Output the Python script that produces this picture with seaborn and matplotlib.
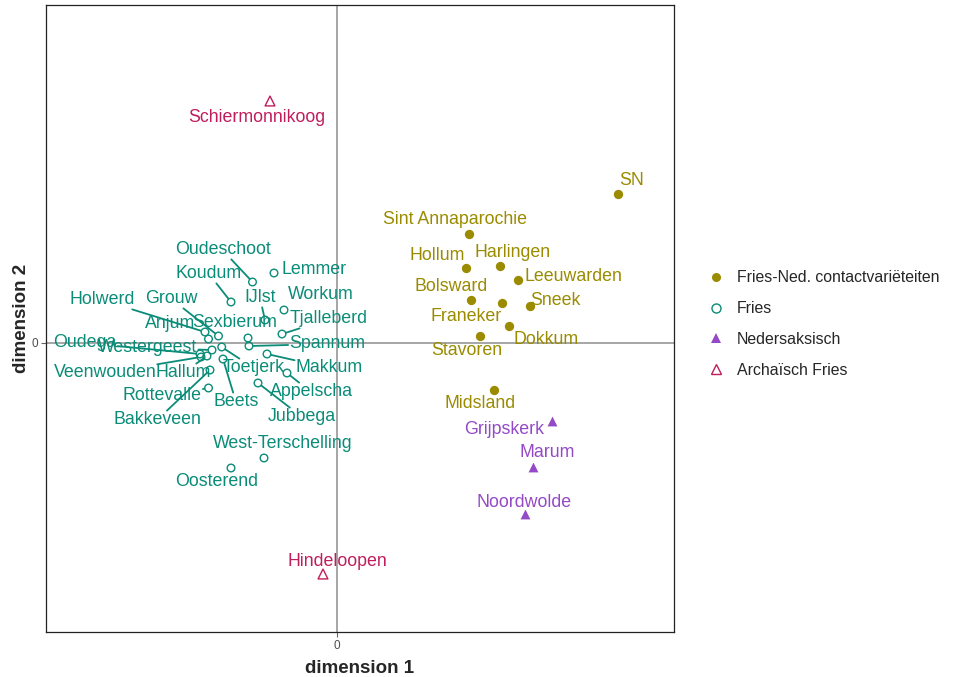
import numpy as np
import pandas as pd
import matplotlib
matplotlib.use('Agg')
import matplotlib.pyplot as plt
from matplotlib.lines import Line2D
import seaborn as sns

# plaatsen, MDS-coordinaten en groep
places = ['SN', 'Sint Annaparochie', 'Hollum', 'Harlingen', 'Leeuwarden', 'Bolsward',
          'Franeker', 'Sneek', 'Dokkum', 'Stavoren', 'Midsland',
          'Grijpskerk', 'Marum', 'Noordwolde',
          'Schiermonnikoog', 'Hindeloopen',
          'Oudeschoot', 'Koudum', 'Lemmer', 'Holwerd', 'Grouw', 'IJlst', 'Workum',
          'Anjum', 'Sexbierum', 'Tjalleberd', 'Oudega', 'Westergeest', 'Spannum',
          'Veenwouden', 'Hallum', 'Toetjerk', 'Makkum', 'Appelscha', 'Rottevalle',
          'Beets', 'Jubbega', 'Bakkeveen', 'West-Terschelling', 'Oosterend']
dim1 = [2.81, 1.32, 1.29, 1.63, 1.81, 1.34, 1.65, 1.93, 1.72, 1.43, 1.57,
        2.15, 1.96, 1.88,
        -0.67, -0.14,
        -0.845, -1.06, -0.63, -1.32, -1.185, -0.72, -0.53,
        -1.285, -0.89, -0.55, -1.37, -1.25, -0.88,
        -1.36, -1.30, -1.153, -0.70, -0.50, -1.285,
        -1.14, -0.79, -1.27, -0.73, -1.06]
dim2 = [1.49, 1.09, 0.75, 0.77, 0.63, 0.43, 0.40, 0.37, 0.17, 0.07, -0.47,
        -0.78, -1.24, -1.71,
        2.42, -2.31,
        0.61, 0.41, 0.70, 0.11, 0.07, 0.23, 0.33,
        0.04, 0.05, 0.09, -0.11, -0.07, -0.03,
        -0.14, -0.13, -0.04, -0.11, -0.30, -0.45,
        -0.16, -0.40, -0.27, -1.15, -1.25]
groups = (['Fries-Ned. contactvariëteiten'] * 11 + ['Nedersaksisch'] * 3 +
          ['Archaïsch Fries'] * 2 + ['Fries'] * 24)

group_order = ['Fries-Ned. contactvariëteiten', 'Fries', 'Nedersaksisch', 'Archaïsch Fries']
colors = {'Fries-Ned. contactvariëteiten': '#9A8B00', 'Fries': '#0A8C78',
          'Nedersaksisch': '#9449C6', 'Archaïsch Fries': '#BF1D5C'}

# label plaatsing (pixels t.o.v. punt, naar rechts / naar beneden)
label_offset = {
    'SN': (14, -13), 'Sint Annaparochie': (-14, -14), 'Hollum': (-29, -12),
    'Harlingen': (13, -13), 'Leeuwarden': (55, -3), 'Bolsward': (-20, -13),
    'Franeker': (-36, 14), 'Sneek': (25, -5), 'Dokkum': (37, 14), 'Stavoren': (-13, 15),
    'Midsland': (-14, 14), 'Grijpskerk': (-48, 9), 'Marum': (14, -14),
    'Noordwolde': (-1, -11), 'Schiermonnikoog': (-13, 16), 'Hindeloopen': (14, -12),
    'Oudeschoot': (-30, -32), 'Koudum': (-22, -28), 'Lemmer': (40, -3),
    'Holwerd': (-103, -32), 'Grouw': (-47, -37), 'IJlst': (-5, -22), 'Workum': (37, -15),
    'Anjum': (-38, -15), 'Sexbierum': (-13, -15), 'Tjalleberd': (47, -15),
    'Oudega': (-115, -11), 'Westergeest': (-64, -2), 'Spannum': (78, -2),
    'Veenwouden': (-96, 16), 'Hallum': (-24, 17), 'Toetjerk': (32, 21),
    'Makkum': (62, 14), 'Appelscha': (24, 19), 'Rottevalle': (-46, 8),
    'Beets': (13, 43), 'Jubbega': (44, 34), 'Bakkeveen': (-53, 50),
    'West-Terschelling': (19, -14), 'Oosterend': (-14, 14)}
with_segment = {'Oudeschoot', 'Koudum', 'Holwerd', 'Grouw', 'IJlst', 'Tjalleberd',
                'Oudega', 'Westergeest', 'Spannum', 'Veenwouden', 'Hallum', 'Toetjerk',
                'Makkum', 'Appelscha', 'Rottevalle', 'Beets', 'Jubbega', 'Bakkeveen'}

df = pd.DataFrame({'place': places, 'dim1': dim1, 'dim2': dim2, 'group': groups})

sns.set_theme(style='white')
plt.rcParams['font.family'] = ['Liberation Sans', 'DejaVu Sans']

fig = plt.figure(figsize=(9.69, 6.77), dpi=100)
W, H = 969, 677
ax = fig.add_axes([46 / W, 1 - 632 / H, (674 - 46) / W, (632 - 5) / H])

ax.axhline(0, color='#a6a6a6', lw=1.4, zorder=0)
ax.axvline(0, color='#a6a6a6', lw=1.4, zorder=0)

styles = {'Fries-Ned. contactvariëteiten': dict(marker='o', s=45, fill=True),
          'Fries': dict(marker='o', s=30, fill=False),
          'Nedersaksisch': dict(marker='^', s=50, fill=True),
          'Archaïsch Fries': dict(marker='^', s=50, fill=False)}
for g in group_order:
    sub = df[df['group'] == g]
    st = styles[g]
    c = colors[g]
    sns.scatterplot(data=sub, x='dim1', y='dim2', ax=ax, marker=st['marker'], s=st['s'],
                    facecolor=c if st['fill'] else 'none', edgecolor=c,
                    linewidth=0 if st['fill'] else 1.0, legend=False, zorder=3)

for _, row in df.iterrows():
    c = colors[row['group']]
    dx, dy = label_offset[row['place']]
    arrow = None
    if row['place'] in with_segment:
        arrow = dict(arrowstyle='-', color=c, lw=1.3, shrinkA=0, shrinkB=3)
    ax.annotate(row['place'], xy=(row['dim1'], row['dim2']), xytext=(dx, -dy),
                textcoords='offset pixels', ha='center', va='center',
                fontsize=12.8, color=c, arrowprops=arrow, zorder=4,
                bbox=dict(boxstyle='square,pad=0.05', fc='none', ec='none'))

ax.set_xlim(-2.91, 3.37)
ax.set_ylim(-2.89, 3.38)
ax.set_xticks([0])
ax.set_yticks([0])
ax.tick_params(axis='both', length=3.5, width=0.8, color='#666666', labelcolor='#4d4d4d',
               labelsize=8.5, left=True, bottom=True, pad=2)
for sp in ax.spines.values():
    sp.set_color('#222222')
    sp.set_linewidth(0.9)
ax.set_xlabel('dimension 1', fontsize=13.5, fontweight='bold', labelpad=6)
ax.set_ylabel('dimension 2', fontsize=13.5, fontweight='bold', labelpad=1)

handles = []
for g in group_order:
    st = styles[g]
    c = colors[g]
    handles.append(Line2D([], [], ls='', marker=st['marker'], ms=7 if st['marker'] == '^' else 6.5,
                          mfc=c if st['fill'] else 'none', mec=c, mew=0 if st['fill'] else 1.0))
fig.legend(handles, group_order, loc='center left', bbox_to_anchor=(697 / W, 1 - 324 / H),
           frameon=False, fontsize=11.4, labelspacing=1.0, handletextpad=0.6,
           borderpad=0, handlelength=1.4)

fig.savefig('out.png', dpi=100)
